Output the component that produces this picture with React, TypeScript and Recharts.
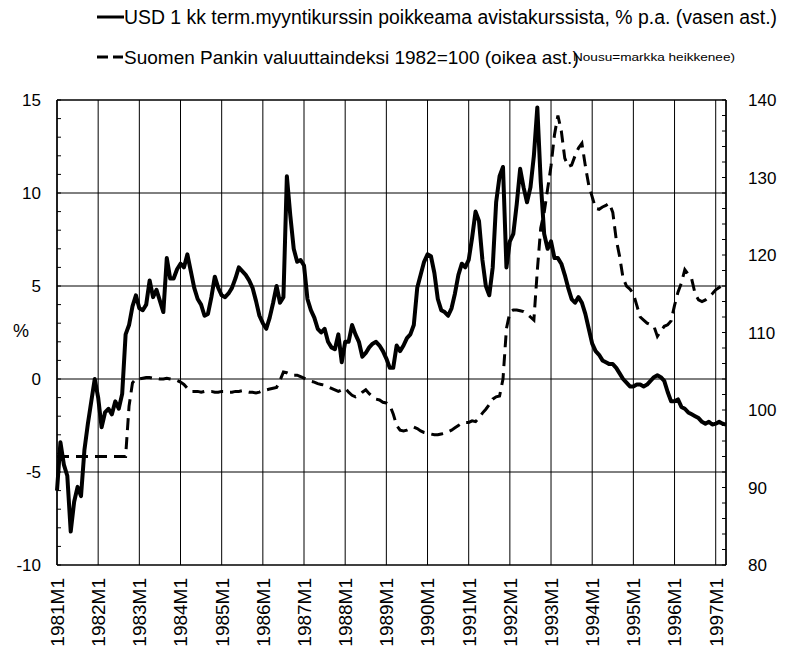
import { LineChart, Line, XAxis, YAxis, CartesianGrid, ReferenceLine } from "recharts";

// kuukausittaiset arvot 1981M1 ... 1997M4
const usdPremium = [
    -6.0, -3.4, -4.6, -5.2, -8.2, -6.6, -5.8, -6.3, -3.8, -2.4, -1.2, 0.0, // 1981
    -1.0, -2.6, -1.8, -1.6, -1.9, -1.2, -1.6, -0.8, 2.4, 2.9, 3.9, 4.5, // 1982
    3.8, 3.7, 4.0, 5.3, 4.4, 4.8, 4.2, 3.6, 6.5, 5.4, 5.4, 5.9, // 1983
    6.2, 6.0, 6.7, 5.8, 4.9, 4.3, 4.0, 3.4, 3.5, 4.4, 5.5, 4.9, // 1984
    4.5, 4.4, 4.6, 4.9, 5.4, 6.0, 5.8, 5.6, 5.3, 4.9, 4.2, 3.4, // 1985
    3.0, 2.7, 3.3, 4.1, 5.0, 4.1, 4.4, 10.9, 8.8, 7.0, 6.3, 6.4, // 1986
    6.1, 4.3, 3.7, 3.3, 2.7, 2.5, 2.7, 2.0, 1.7, 1.6, 2.4, 0.9, // 1987
    2.0, 2.0, 2.9, 2.4, 2.0, 1.2, 1.4, 1.7, 1.9, 2.0, 1.8, 1.5, // 1988
    1.1, 0.6, 0.6, 1.8, 1.5, 1.8, 2.2, 2.4, 2.9, 4.9, 5.6, 6.3, // 1989
    6.7, 6.6, 5.7, 4.3, 3.7, 3.6, 3.4, 3.8, 4.6, 5.6, 6.2, 6.0, // 1990
    6.4, 7.6, 9.0, 8.5, 6.4, 5.0, 4.5, 6.0, 9.5, 10.9, 11.4, 6.0, // 1991
    7.4, 7.8, 9.4, 11.3, 10.3, 9.5, 10.3, 12.0, 14.6, 10.6, 7.8, 7.0, // 1992
    7.4, 6.5, 6.5, 6.2, 5.6, 4.9, 4.3, 4.1, 4.4, 4.1, 3.5, 2.7, // 1993
    1.9, 1.5, 1.3, 1.0, 0.9, 0.8, 0.8, 0.6, 0.3, 0.0, -0.2, -0.4, // 1994
    -0.4, -0.3, -0.3, -0.4, -0.3, -0.1, 0.1, 0.2, 0.1, -0.1, -0.7, -1.2, // 1995
    -1.2, -1.1, -1.5, -1.6, -1.8, -1.9, -2.0, -2.1, -2.3, -2.4, -2.3, -2.45, // 1996
    -2.4, -2.3, -2.4, -2.45, // 1997
];

const currencyIndex = [
    94.0, 94.0, 94.0, 94.0, 94.0, 94.0, 94.0, 94.0, 94.0, 94.0, 94.0, 94.0, // 1981
    94.0, 94.0, 94.0, 94.0, 94.0, 94.0, 94.0, 94.0, 94.0, 100.5, 103.5, 104.0, // 1982
    104.0, 104.1, 104.2, 104.2, 104.1, 104.1, 104.0, 104.0, 104.1, 104.0, 103.9, 103.8, // 1983
    103.6, 103.3, 102.8, 102.4, 102.4, 102.4, 102.3, 102.4, 102.4, 102.4, 102.3, 102.3, // 1984
    102.4, 102.4, 102.3, 102.3, 102.4, 102.4, 102.5, 102.4, 102.3, 102.3, 102.2, 102.3, // 1985
    102.5, 102.6, 102.7, 102.8, 102.9, 103.8, 104.9, 104.8, 104.6, 104.5, 104.5, 104.3, // 1986
    104.1, 103.9, 103.7, 103.6, 103.4, 103.3, 103.2, 103.0, 102.8, 102.6, 102.4, 102.6, // 1987
    102.8, 102.3, 101.9, 101.7, 101.9, 102.3, 102.6, 102.1, 101.7, 101.4, 101.3, 101.0, // 1988
    100.9, 100.6, 99.5, 98.0, 97.4, 97.3, 97.4, 97.6, 97.8, 97.6, 97.3, 97.1, // 1989
    97.0, 96.9, 96.8, 96.8, 96.9, 97.0, 97.2, 97.4, 97.7, 98.0, 98.3, 98.4, // 1990
    98.4, 98.6, 98.5, 99.0, 99.6, 100.1, 100.7, 101.4, 101.7, 101.8, 104.0, 110.5, // 1991
    112.6, 112.9, 112.9, 112.8, 112.7, 112.4, 112.0, 111.6, 118.0, 123.5, 125.5, 128.5, // 1992
    131.5, 135.5, 138.0, 136.0, 132.5, 131.4, 131.6, 132.8, 133.8, 134.4, 131.5, 129.0, // 1993
    127.5, 126.0, 125.9, 126.2, 126.4, 126.7, 125.5, 122.0, 119.8, 117.0, 116.0, 115.6, // 1994
    115.0, 113.5, 112.0, 111.6, 111.2, 111.0, 110.8, 109.5, 110.2, 110.8, 111.0, 111.5, // 1995
    113.5, 115.2, 116.4, 118.1, 117.5, 116.9, 115.0, 114.2, 114.0, 114.2, 114.6, 115.0, // 1996
    115.5, 115.8, 116.1, 116.5, // 1997
];

const yearLabels = [
    "1981M1", "1982M1", "1983M1", "1984M1", "1985M1", "1986M1", "1987M1", "1988M1", "1989M1",
    "1990M1", "1991M1", "1992M1", "1993M1", "1994M1", "1995M1", "1996M1", "1997M1",
];
const yearTicks = [0, 12, 24, 36, 48, 60, 72, 84, 96, 108, 120, 132, 144, 156, 168, 180, 192];

const leftTicks = [-10, -9, -8, -7, -6, -5, -4, -3, -2, -1, 0, 1, 2, 3, 4, 5, 6, 7, 8, 9, 10, 11, 12, 13, 14, 15];
const leftMajor = [-5, 0, 5, 10, 15];
const rightTicks = [80, 82, 84, 86, 88, 90, 92, 94, 96, 98, 100, 102, 104, 106, 108, 110, 112, 114, 116, 118, 120, 122, 124, 126, 128, 130, 132, 134, 136, 138, 140];

const data = usdPremium.map((v, i) => ({ t: i, usd: v, idx: currencyIndex[i] }));

const FONT = "'Liberation Sans', Arial, Helvetica, sans-serif";

const YearTick = ({ x, y, payload }: any) => (
    <text
        x={x}
        y={y}
        transform={`rotate(-90, ${x}, ${y})`}
        textAnchor="end"
        dy="0.36em"
        fontSize={19}
        fontFamily={FONT}
        fill="#000"
    >
        {yearLabels[yearTicks.indexOf(payload.value)]}
    </text>
);

// pieni sisäänpäin osoittava merkki + otsikko joka 5. arvolle
const LeftTick = ({ x, y, payload }: any) => (
    <g>
        <line x1={x} y1={y} x2={x + 4} y2={y} stroke="#000" strokeWidth={1} />
        {payload.value % 5 === 0 && (
            <text x={x - 16} y={y} dy="0.36em" textAnchor="end" fontSize={17} fontFamily={FONT} fill="#000">
                {payload.value}
            </text>
        )}
    </g>
);

const RightTick = ({ x, y, payload }: any) => (
    <g>
        <line x1={x - 4} y1={y} x2={x} y2={y} stroke="#000" strokeWidth={1} />
        {payload.value % 10 === 0 && (
            <text x={x + 22} y={y} dy="0.36em" textAnchor="start" fontSize={17} fontFamily={FONT} fill="#000">
                {payload.value}
            </text>
        )}
    </g>
);

export default function App() {
    return (
        <div style={{ position: "absolute", left: 0, top: 0, width: 795, height: 660, background: "#fff" }}>
            <LineChart
                width={795}
                height={660}
                data={data}
                margin={{ top: 100, right: 0, bottom: 0, left: 0 }}
                style={{ fontFamily: FONT }}
            >
                <CartesianGrid yAxisId="left" horizontal={false} stroke="#000" strokeWidth={1} />

                <XAxis
                    type="number"
                    dataKey="t"
                    domain={[0, 195]}
                    ticks={yearTicks}
                    interval={0}
                    tickLine={false}
                    tickSize={6}
                    tickMargin={7}
                    axisLine={{ stroke: "#000", strokeWidth: 1.5 }}
                    tick={<YearTick />}
                    height={95}
                />

                <YAxis
                    yAxisId="left"
                    domain={[-10, 15]}
                    ticks={leftTicks}
                    interval={0}
                    width={57}
                    tickSize={0}
                    tickMargin={0}
                    tickLine={false}
                    axisLine={{ stroke: "#000", strokeWidth: 1.5 }}
                    tick={<LeftTick />}
                />

                <YAxis
                    yAxisId="right"
                    orientation="right"
                    domain={[80, 140]}
                    ticks={rightTicks}
                    interval={0}
                    width={69}
                    tickSize={0}
                    tickMargin={0}
                    tickLine={false}
                    axisLine={{ stroke: "#000", strokeWidth: 1.5 }}
                    tick={<RightTick />}
                />

                {leftMajor.map((v) => (
                    <ReferenceLine key={v} yAxisId="left" y={v} stroke="#000" strokeWidth={v === 15 ? 1.5 : 1} />
                ))}

                <Line
                    yAxisId="right"
                    type="linear"
                    dataKey="idx"
                    stroke="#000"
                    strokeWidth={3}
                    strokeDasharray="12 7"
                    dot={false}
                    isAnimationActive={false}
                />

                <Line
                    yAxisId="left"
                    type="linear"
                    dataKey="usd"
                    stroke="#000"
                    strokeWidth={4}
                    strokeLinejoin="round"
                    dot={false}
                    isAnimationActive={false}
                />
            </LineChart>

            {/* selitteet ja %-otsikko */}
            <svg
                width={795}
                height={660}
                style={{ position: "absolute", left: 0, top: 0, pointerEvents: "none" }}
                fontFamily={FONT}
            >
                <line x1={97} y1={17} x2={124} y2={17} stroke="#000" strokeWidth={3} />
                <text x={124} y={24} fontSize={19.4} fill="#000">
                    USD 1 kk term.myyntikurssin poikkeama avistakurssista, % p.a. (vasen ast.)
                </text>

                <line x1={97} y1={57} x2={123} y2={57} stroke="#000" strokeWidth={3} strokeDasharray="11 5" />
                <text x={124} y={64} fontSize={19} fill="#000">
                    Suomen Pankin valuuttaindeksi 1982=100 (oikea ast.)
                </text>
                <text x={573} y={61} fontSize={11} fill="#000" textLength={162} lengthAdjust="spacingAndGlyphs">
                    Nousu=markka heikkenee)
                </text>

                <text x={13} y={337} fontSize={18} fill="#000">%</text>
            </svg>
        </div>
    );
}
